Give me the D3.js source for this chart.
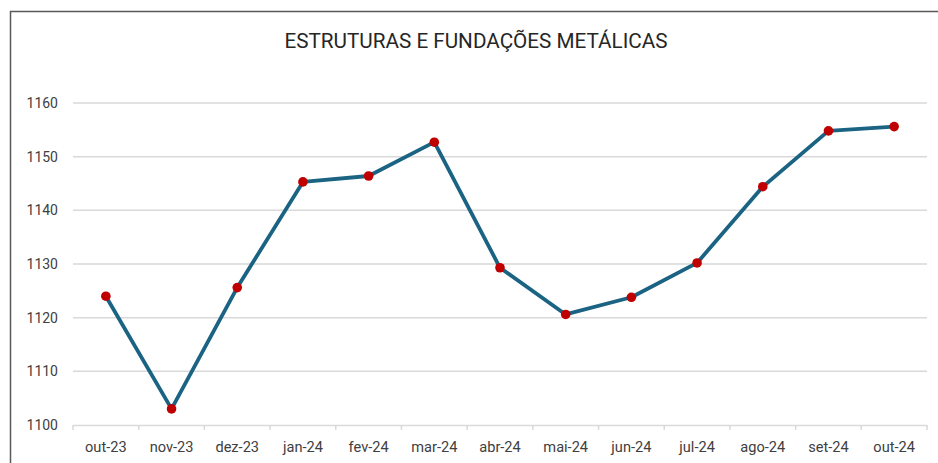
<!DOCTYPE html>
<html lang="pt">
<head>
    <meta charset="UTF-8">
    <title>Estruturas e Fundações Metálicas</title>
    <style>
        body { margin: 0; background: #fff; }
        .title { font-family: Roboto, "Noto Sans", sans-serif; font-size: 20.7px; fill: #262626; text-anchor: middle; }
        .tick text { font-family: Roboto, "Noto Sans", sans-serif; font-size: 14px; fill: #404040; }
        .x-axis .tick text { font-size: 14.6px; }
        .grid line { stroke: #d9d9d9; stroke-width: 1.5px; }
    </style>
</head>
<body>
    <script src="https://d3js.org/d3.v7.min.js"></script>
    <script>
        const months = ["out-23", "nov-23", "dez-23", "jan-24", "fev-24", "mar-24", "abr-24",
                        "mai-24", "jun-24", "jul-24", "ago-24", "set-24", "out-24"];
        const values = [1124.0, 1103.0, 1125.6, 1145.3, 1146.4, 1152.7, 1129.3,
                        1120.6, 1123.8, 1130.2, 1144.4, 1154.8, 1155.6];
        const yTicks = [1100, 1110, 1120, 1130, 1140, 1150, 1160];

        const width = 938;
        const height = 463;
        const margin = { top: 103, right: 11, bottom: 38, left: 73 };

        const svg = d3.select("body").append("svg")
            .attr("width", width)
            .attr("height", height);

        // chart frame (only top and left edges visible in the picture)
        svg.append("path")
            .attr("d", `M10.5,${height} V11.5 H${width}`)
            .attr("fill", "none")
            .attr("stroke", "#595959")
            .attr("stroke-width", 1.5);

        svg.append("text")
            .attr("class", "title")
            .attr("x", 476)
            .attr("y", 48)
            .text("ESTRUTURAS E FUNDAÇÕES METÁLICAS");

        const x = d3.scaleBand()
            .domain(months)
            .range([margin.left, width - margin.right]);

        const y = d3.scaleLinear()
            .domain([1100, 1160])
            .range([height - margin.bottom, margin.top]);

        // horizontal gridlines
        svg.append("g")
            .attr("class", "grid")
            .selectAll("line")
            .data(yTicks.slice(1))
            .enter().append("line")
            .attr("x1", margin.left)
            .attr("x2", width - margin.right)
            .attr("y1", d => y(d))
            .attr("y2", d => y(d));

        // y labels
        const yAxis = svg.append("g")
            .attr("transform", `translate(${margin.left},0)`)
            .call(d3.axisLeft(y).tickValues(yTicks).tickSize(0).tickPadding(15).tickFormat(d3.format("d")));
        yAxis.select(".domain").remove();

        // category axis with tick marks between categories
        const xAxis = svg.append("g")
            .attr("class", "x-axis")
            .attr("transform", `translate(0,${y(1100)})`)
            .call(d3.axisBottom(x).tickSize(0).tickPadding(17));
        xAxis.select(".domain")
            .attr("stroke", "#d9d9d9")
            .attr("stroke-width", 1.5);

        const bounds = months.map(m => x(m)).concat([width - margin.right]);
        xAxis.selectAll(".sep")
            .data(bounds)
            .enter().append("line")
            .attr("class", "sep")
            .attr("x1", d => d)
            .attr("x2", d => d)
            .attr("y1", 0)
            .attr("y2", 5)
            .attr("stroke", "#d9d9d9")
            .attr("stroke-width", 1.5);

        const cx = d => x(d) + x.bandwidth() / 2;

        const line = d3.line()
            .x((d, i) => cx(months[i]))
            .y(d => y(d));

        svg.append("path")
            .datum(values)
            .attr("d", line)
            .attr("fill", "none")
            .attr("stroke", "#1a6383")
            .attr("stroke-width", 3.8)
            .attr("stroke-linejoin", "round");

        svg.append("g")
            .selectAll("circle")
            .data(values)
            .enter().append("circle")
            .attr("cx", (d, i) => cx(months[i]))
            .attr("cy", d => y(d))
            .attr("r", 4.8)
            .attr("fill", "#c00000");
    </script>
</body>
</html>
